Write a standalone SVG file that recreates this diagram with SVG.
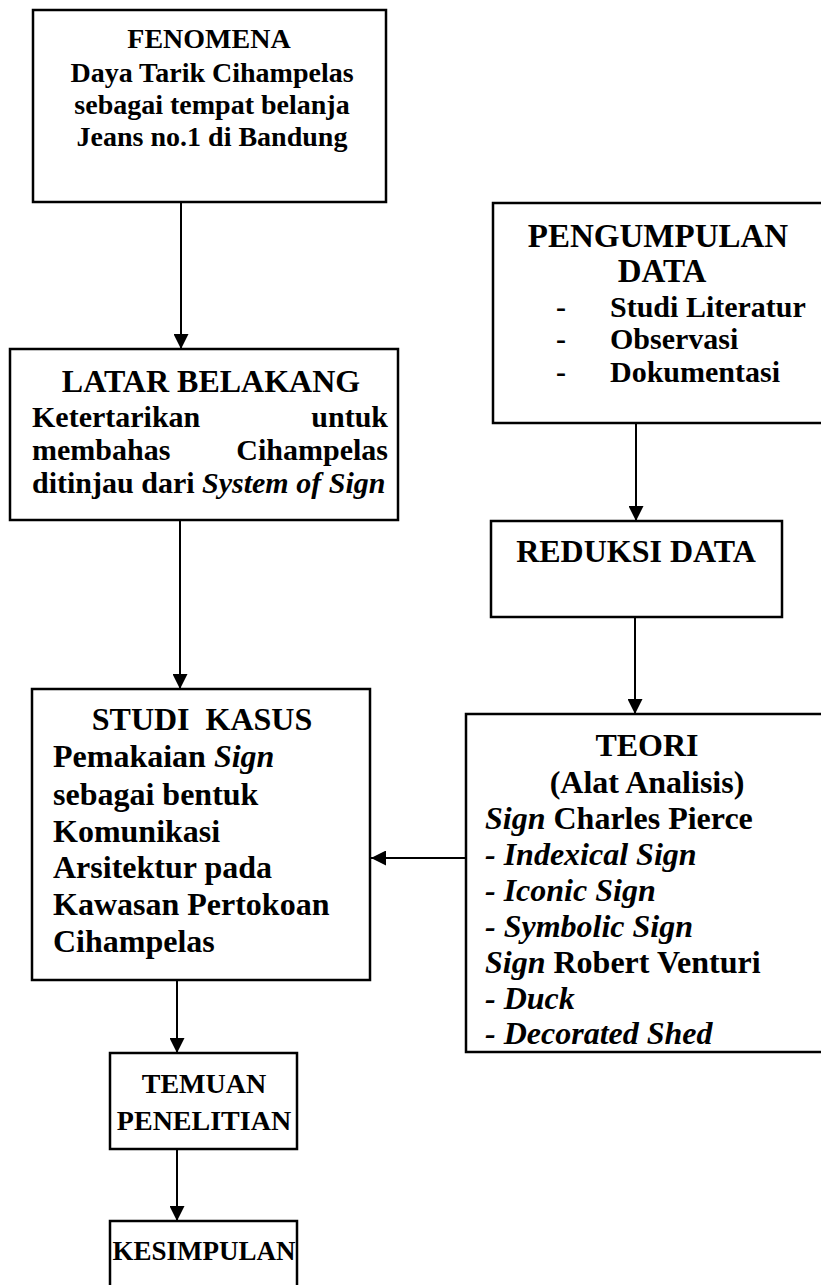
<svg xmlns="http://www.w3.org/2000/svg" width="821" height="1285" viewBox="0 0 821 1285">
<style>
.box{fill:#fff;stroke:#000;stroke-width:2.5}
.con{fill:none;stroke:#000;stroke-width:2}
text{font-family:"Liberation Serif","Times New Roman",serif;font-weight:bold;fill:#000}
.c{text-anchor:middle}
.e{text-anchor:end}
.i{font-style:italic}
.f27{font-size:27px}
.f28{font-size:28px}
.f30{font-size:30px}
.f32{font-size:32px}
.f33{font-size:33px}
</style>
<defs>
<marker id="arr" viewBox="0 0 15 15" refX="15" refY="7.5" markerWidth="15" markerHeight="15" markerUnits="userSpaceOnUse" orient="auto">
<path d="M0,0 L15,7.5 L0,15 z" fill="#000"/>
</marker>
</defs>
<rect width="821" height="1285" fill="#fff"/>

<g id="connectors">
<line class="con" x1="181" y1="202" x2="181" y2="349" marker-end="url(#arr)"/>
<line class="con" x1="180" y1="520" x2="180" y2="689" marker-end="url(#arr)"/>
<line class="con" x1="636" y1="423" x2="636" y2="521" marker-end="url(#arr)"/>
<line class="con" x1="635" y1="617" x2="635" y2="714" marker-end="url(#arr)"/>
<line class="con" x1="470" y1="858" x2="371" y2="858" marker-end="url(#arr)"/>
<line class="con" x1="177" y1="980" x2="177" y2="1053" marker-end="url(#arr)"/>
<line class="con" x1="177" y1="1149" x2="177" y2="1221" marker-end="url(#arr)"/>
</g>

<g id="fenomena">
<rect class="box" x="33" y="10" width="353" height="192"/>
<text class="c f28" x="209" y="48">FENOMENA</text>
<text class="c f28" x="212" y="82">Daya Tarik Cihampelas</text>
<text class="c f28" x="212" y="114">sebagai tempat belanja</text>
<text class="c f28" x="212" y="146">Jeans no.1 di Bandung</text>
</g>

<g id="latar">
<rect class="box" x="10" y="349" width="388" height="171"/>
<text class="c f32" x="211" y="392">LATAR BELAKANG</text>
<text class="f30" x="32" y="427">Ketertarikan</text>
<text class="f30 e" x="388" y="427">untuk</text>
<text class="f30" x="32" y="460">membahas</text>
<text class="f30 e" x="388" y="460">Cihampelas</text>
<text class="f30" x="32" y="493">ditinjau dari <tspan class="i">System of Sign</tspan></text>
</g>

<g id="pengumpulan">
<rect class="box" x="493" y="203" width="340" height="220"/>
<text class="c f33" x="658" y="247">PENGUMPULAN</text>
<text class="c f33" x="662" y="282">DATA</text>
<text class="c f30" x="561" y="317">-</text>
<text class="f30" x="610" y="317">Studi Literatur</text>
<text class="c f30" x="561" y="349">-</text>
<text class="f30" x="610" y="349">Observasi</text>
<text class="c f30" x="561" y="382">-</text>
<text class="f30" x="610" y="382">Dokumentasi</text>
</g>

<g id="reduksi">
<rect class="box" x="491" y="521" width="291" height="96"/>
<text class="c f32" x="636" y="562">REDUKSI DATA</text>
</g>

<g id="teori">
<rect class="box" x="466" y="714" width="370" height="338"/>
<text class="c f32" x="647" y="756">TEORI</text>
<text class="c f32" x="647" y="793">(Alat Analisis)</text>
<text class="f32" x="485" y="829"><tspan class="i">Sign</tspan> Charles Pierce</text>
<text class="f32 i" x="485" y="865">- Indexical Sign</text>
<text class="f32 i" x="485" y="901">- Iconic Sign</text>
<text class="f32 i" x="485" y="937">- Symbolic Sign</text>
<text class="f32" x="485" y="973"><tspan class="i">Sign</tspan> Robert Venturi</text>
<text class="f32 i" x="485" y="1009">- Duck</text>
<text class="f32 i" x="485" y="1044">- Decorated Shed</text>
</g>

<g id="studi">
<rect class="box" x="32" y="689" width="338" height="291"/>
<text class="c f32" x="202" y="730" xml:space="preserve">STUDI  KASUS</text>
<text class="f32" x="53" y="767">Pemakaian <tspan class="i">Sign</tspan></text>
<text class="f32" x="53" y="805">sebagai bentuk</text>
<text class="f32" x="53" y="842">Komunikasi</text>
<text class="f32" x="53" y="878">Arsitektur pada</text>
<text class="f32" x="53" y="915">Kawasan Pertokoan</text>
<text class="f32" x="53" y="952">Cihampelas</text>
</g>

<g id="temuan">
<rect class="box" x="110" y="1053" width="187" height="96"/>
<text class="c f28" x="204" y="1093">TEMUAN</text>
<text class="c f28" x="204" y="1130">PENELITIAN</text>
</g>

<g id="kesimpulan">
<rect class="box" x="110" y="1221" width="187" height="80"/>
<text class="c f27" x="204" y="1260">KESIMPULAN</text>
</g>
</svg>
